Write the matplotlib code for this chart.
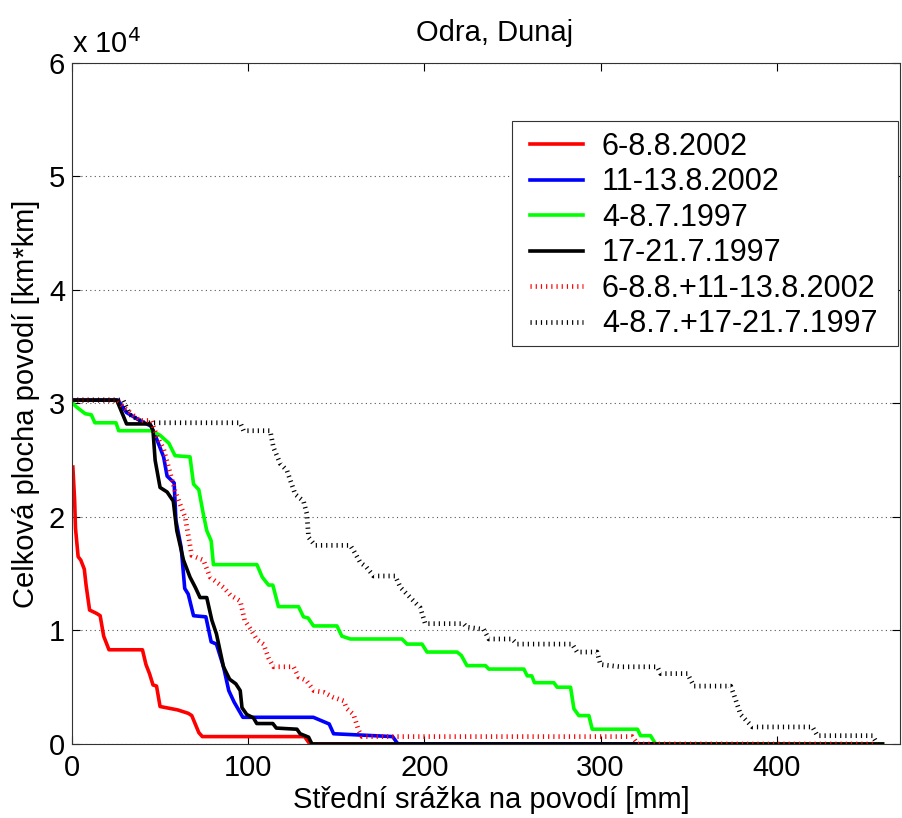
import matplotlib
matplotlib.use("Agg")
import matplotlib.pyplot as plt
from matplotlib.patches import Rectangle

plt.rcParams['font.family'] = ['Liberation Sans', 'DejaVu Sans']

# 6-8.8.2002
red_x = [0.5, 1.5, 2, 3.5, 5, 7, 8, 10, 14, 16, 18, 21, 40, 42, 44, 46, 48, 50, 60, 62, 66, 68, 72, 74, 132, 135, 460]
red_y = [24400, 21500, 19000, 16500, 16200, 15400, 14000, 11800, 11500, 11300, 9500, 8300, 8300, 7000, 6200, 5200, 5100, 3300, 3000, 2900, 2700, 2500, 1000, 650, 650, 0, 0]

# 11-13.8.2002
blue_x = [0, 26, 31, 38.5, 45, 48, 52, 54, 58, 59, 62, 64, 66, 69, 76, 79, 82, 86, 89, 92, 97, 137, 146, 148.5, 182, 185, 460]
blue_y = [30300, 30300, 29200, 28500, 28000, 26900, 25300, 23600, 23000, 19700, 17300, 13700, 13200, 11300, 11200, 9000, 8800, 6800, 4700, 3700, 2350, 2350, 1760, 900, 650, 0, 0]

# 4-8.7.1997
green_x = [0, 2.5, 7.5, 11, 13, 25, 26.5, 45, 50, 55, 58.5, 67, 69, 72, 74.5, 76.5, 79, 80.3, 105, 108, 111.6, 114, 117.2, 128.6, 131.4, 134, 137.1, 150.4, 153.2, 158, 187.3, 190.2, 198.7, 201.5, 218.6, 221, 224.2, 234.7, 236.6, 256.5, 258.4, 261, 262.5, 273.5, 275.4, 283, 284.9, 287.7, 293.4, 295.3, 321, 322.7, 328.4, 331.3, 460]
green_y = [30100, 29700, 29100, 29000, 28300, 28300, 27600, 27600, 27200, 26500, 25400, 25300, 22900, 22400, 20300, 18800, 17900, 15800, 15800, 14700, 14000, 14000, 12100, 12100, 11200, 11100, 10400, 10400, 9500, 9250, 9250, 8800, 8800, 8100, 8100, 7800, 6900, 6900, 6600, 6600, 6000, 6000, 5400, 5400, 5000, 5000, 3100, 2500, 2500, 1300, 1300, 730, 730, 0, 0]

# 17-21.7.1997
black_x = [0, 25.4, 31, 44.3, 46, 47.2, 50, 54, 57.5, 59.5, 63.3, 67, 70, 72.7, 76.5, 79.4, 82, 86, 89.5, 93, 95.5, 96.5, 99.2, 103, 104.9, 114, 116, 127.7, 129.5, 134.3, 136.2, 460]
black_y = [30300, 30300, 28200, 28200, 27600, 25000, 22600, 22200, 21400, 18800, 16200, 14700, 13800, 12900, 12900, 10900, 9700, 6800, 5700, 5300, 4700, 3200, 2600, 2300, 1800, 1800, 1400, 1300, 900, 600, 0, 0]

# 6-8.8.+11-13.8.2002
redd_x = [0, 26, 29, 38.5, 45, 48, 52, 55.7, 58.5, 61.4, 64.2, 68, 74.6, 78.4, 86, 90, 95.5, 98, 101, 105, 108.7, 111.5, 114.4, 125.8, 128.6, 133, 137.3, 143, 148.5, 154.2, 156.1, 159.8, 162.7, 164.6, 318, 321.2, 457]
redd_y = [30300, 30300, 29700, 28500, 28500, 27200, 26000, 23900, 22300, 21100, 20000, 16600, 16200, 14700, 13800, 13100, 12600, 10900, 10200, 9200, 8800, 7600, 6800, 6800, 5900, 5600, 4700, 4550, 4100, 3800, 3100, 2600, 1200, 650, 650, 0, 0]

# 4-8.7.+17-21.7.1997
blackd_x = [0, 29, 33, 40.5, 95.5, 97.4, 112.5, 114.4, 118.2, 122, 126.7, 131.4, 133.3, 134.3, 138, 157.9, 160, 163.6, 167, 171.2, 183.5, 186.4, 192, 197.7, 200.5, 222.3, 224, 233.7, 236.6, 249.8, 252.6, 283.9, 286.7, 298, 300, 311.4, 332.2, 334.1, 349.3, 353, 373.9, 375.8, 379.5, 386.2, 420.3, 423.1, 454.4, 457.2]
blackd_y = [30300, 30300, 29000, 28300, 28300, 27600, 27600, 26100, 24700, 24100, 22000, 21400, 20300, 18200, 17500, 17500, 17000, 16000, 15600, 14800, 14800, 13800, 12900, 12000, 10600, 10600, 10300, 10100, 9250, 9250, 8800, 8800, 8100, 8100, 7000, 6800, 6800, 6200, 6200, 5100, 5100, 4300, 2600, 1500, 1500, 730, 730, 0]

labels = ['6-8.8.2002', '11-13.8.2002', '4-8.7.1997', '17-21.7.1997',
          '6-8.8.+11-13.8.2002', '4-8.7.+17-21.7.1997']

FS = 21
fig = plt.figure(figsize=(9.03, 8.18), dpi=100)
ax = fig.add_axes([0.0797, 0.0905, 0.917, 0.8325])

dot = (0, (0.25, 0.85))
ax.plot(red_x, red_y, color='#ff0000', lw=2.6, label=labels[0])
ax.plot(blue_x, blue_y, color='#0000ff', lw=2.6, label=labels[1])
ax.plot(green_x, green_y, color='#00ff00', lw=2.6, label=labels[2])
ax.plot(black_x, black_y, color='#000000', lw=2.6, label=labels[3])
ax.plot(redd_x, redd_y, color='#ff0000', lw=3.4, ls=dot, dash_capstyle='butt', label=labels[4])
ax.plot(blackd_x, blackd_y, color='#000000', lw=3.4, ls=dot, dash_capstyle='butt', label=labels[5])

ax.set_xlim(0, 470)
ax.set_ylim(0, 60000)
ax.set_xticks([0, 100, 200, 300, 400])
ax.set_yticks([0, 10000, 20000, 30000, 40000, 50000, 60000])
ax.set_yticklabels(['0', '1', '2', '3', '4', '5', '6'])
ax.tick_params(direction='in', labelsize=FS, length=6, width=0.8, top=True, right=True)
ax.tick_params(axis='x', pad=7)
ax.tick_params(axis='y', pad=5)
ax.yaxis.grid(True, linestyle=(0, (1, 3)), color='#555555', lw=0.8)
for s in ax.spines.values():
    s.set_linewidth(0.8)
    s.set_color('#333333')

fig.text(72 / 903, 1 - 53 / 818, r'x 10$^{4}$', fontsize=FS, ha='left', va='baseline')
ax.set_title('Odra, Dunaj', fontsize=FS, pad=16, x=0.51)
ax.set_xlabel('Střední srážka na povodí [mm]', fontsize=FS, labelpad=3, x=0.507)
ax.set_ylabel('Celková plocha povodí [km*km]', fontsize=FS, labelpad=6)

# legend box (frame drawn separately)
frame = Rectangle((0.5314, 0.5844), 0.4662, 0.3304, transform=ax.transAxes,
                  facecolor='white', edgecolor='#333333', lw=0.8, zorder=4.5)
ax.add_patch(frame)
leg = ax.legend(loc='upper left', bbox_to_anchor=(0.5531, 0.8987), fontsize=22,
                frameon=False, handlelength=1.73, borderpad=0.0,
                labelspacing=0.18, handletextpad=0.62, borderaxespad=0)
leg.set_zorder(5)

fig.savefig('out.png', dpi=100)
